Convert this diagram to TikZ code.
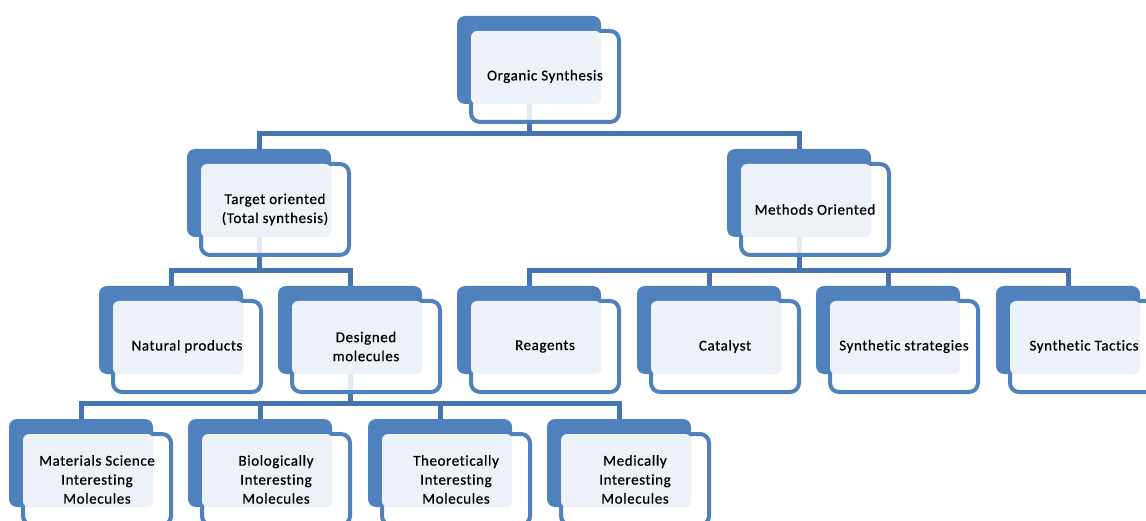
\documentclass[tikz,border=0pt]{standalone}
\usepackage{fontspec}
\setmainfont{Carlito}[LetterSpace=4, Ligatures=NoCommon, FakeBold=0.6]
\usetikzlibrary{calc,positioning}
\definecolor{boxblue}{RGB}{79,129,189}
\definecolor{linkblue}{RGB}{70,116,176}
\definecolor{paleblue}{RGB}{237,241,248}
\pgfdeclarelayer{background}
\pgfsetlayers{background,main}

\tikzset{
    backbox/.style={rectangle, rounded corners=8pt, fill=boxblue, minimum width=144pt, minimum height=88pt, inner sep=0pt},
    frontbox/.style={rectangle, rounded corners=9pt, draw=boxblue, line width=4pt, fill=white, fill opacity=0.85, minimum width=148pt, minimum height=91pt, inner sep=0pt},
    boxlabel/.style={align=center, font=\fontsize{15}{19}\selectfont, inner sep=0pt},
    conn/.style={draw=linkblue, line width=5pt},
}

% name, left, top, text
\newcommand{\orgbox}[4]{%
    \node[backbox] (#1) at ({#2+72},{#3+44}) {};
    \node[frontbox] (#1-f) at ($(#1)+(16,16.5)$) {};
    \fill[paleblue, rounded corners=6pt] ($(#1-f.north west)+(2,2)$) rectangle (#1.south east);
    \node[boxlabel] (#1-t) at (#1-f) {#4};
}

\begin{document}
\begin{tikzpicture}[x=1pt, y=-1pt]
            \useasboundingbox (0,0) rectangle (1146,521);
            \clip (0,0) rectangle (1146,521);

            \orgbox{os}{457}{16}{Organic Synthesis}

            \orgbox{tgt}{187}{149}{Target oriented\\(Total synthesis)}
            \orgbox{mth}{727}{149}{Methods Oriented}

            \orgbox{nat}{99}{286}{Natural products}
            \orgbox{des}{278}{286}{Designed\\molecules}
            \orgbox{rea}{457}{286}{Reagents}
            \orgbox{cat}{637}{286}{Catalyst}
            \orgbox{sst}{816}{286}{Synthetic strategies}
            \orgbox{stc}{996}{286}{Synthetic Tactics}

            \orgbox{mat}{9}{419}{Materials Science\\Interesting\\Molecules}
            \orgbox{bio}{188}{419}{Biologically\\Interesting\\Molecules}
            \orgbox{the}{368}{419}{Theoretically\\Interesting\\Molecules}
            \orgbox{med}{547}{419}{Medically\\Interesting\\Molecules}

            \begin{pgfonlayer}{background}
                \draw[conn] (os.south) -- ++(0,29) -| (tgt.north);
                \draw[conn] (os.south) -- ++(0,29) -| (mth.north);

                \draw[conn] (tgt.south) -- ++(0,33) -| (nat.north);
                \draw[conn] (tgt.south) -- ++(0,33) -| (des.north);

                \draw[conn] (mth.south) -- ++(0,33) -| (rea.north);
                \draw[conn] (mth.south) -- ++(0,33) -| (cat.north);
                \draw[conn] (mth.south) -- ++(0,33) -| (sst.north);
                \draw[conn] (mth.south) -- ++(0,33) -| (stc.north);

                \draw[conn] (des.south) -- ++(0,29) -| (mat.north);
                \draw[conn] (des.south) -- ++(0,29) -| (bio.north);
                \draw[conn] (des.south) -- ++(0,29) -| (the.north);
                \draw[conn] (des.south) -- ++(0,29) -| (med.north);
            \end{pgfonlayer}
        \end{tikzpicture}
\end{document}
